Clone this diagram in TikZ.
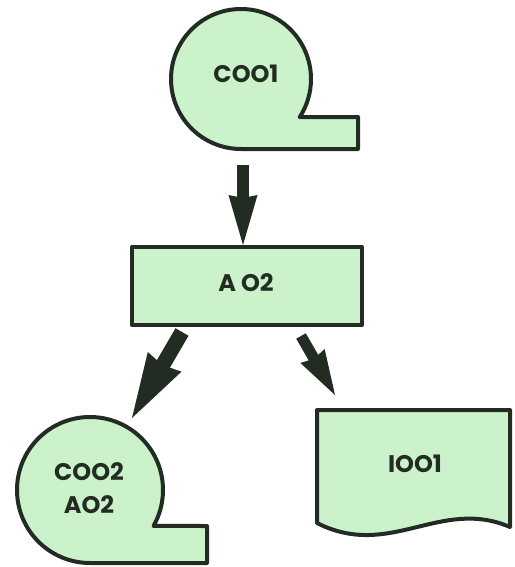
\documentclass[tikz,border=0pt]{standalone}
\usepackage{fontspec}
\setmainfont{Poppins}
\usetikzlibrary{arrows.meta}
\definecolor{tapegreen}{RGB}{204,242,204}
\definecolor{inkgreen}{RGB}{34,44,34}

\begin{document}
\begin{tikzpicture}[x=1pt, y=-1pt, line width=4pt, line join=round]
\useasboundingbox (0,0) rectangle (514,567);

%tapes
\filldraw[fill=tapegreen, draw=inkgreen] (241,149) arc[start angle=90, end angle=393, radius=70]
  -- (358,117) -- (358,149) -- cycle;
\filldraw[fill=tapegreen, draw=inkgreen] (90,563) arc[start angle=90, end angle=389.5, radius=73]
  -- (207,526) -- (207,563) -- cycle;

%process
\filldraw[fill=tapegreen, draw=inkgreen] (132,247) rectangle (362,325);

%document
\filldraw[fill=tapegreen, draw=inkgreen] (317,410) -- (510,410) -- (510,527)
  .. controls (440,497) and (390,560) .. (317,523) -- cycle;

%labels
\node[font=\bfseries\fontsize{24}{33}\selectfont, text=inkgreen] (c001) at (246,74) {COO1};
\node[font=\bfseries\fontsize{24}{33}\selectfont, text=inkgreen] (a02) at (246,283) {A O2};
\node[font=\bfseries\fontsize{24}{33}\selectfont, text=inkgreen, align=center] (c002) at (89,488) {COO2\\AO2};
\node[font=\bfseries\fontsize{24}{33}\selectfont, text=inkgreen] (i001) at (415,464) {IOO1};

%arrows
\coordinate (c001 out) at (243,165);
\coordinate (a02 in) at (243,245);
\coordinate (a02 left) at (182,332);
\coordinate (c002 in) at (132,418);
\coordinate (a02 right) at (301,336);
\coordinate (i001 in) at (335,395);
\draw[inkgreen, line width=12pt, -{Stealth[length=50pt, width=29pt, inset=3pt, line width=0pt]}] (c001 out) -- (a02 in);
\draw[inkgreen, line width=15pt, -{Stealth[length=65pt, width=39pt, inset=4pt, line width=0pt]}] (a02 left) -- (c002 in);
\draw[inkgreen, line width=11pt, -{Stealth[length=45pt, width=28pt, inset=3pt, line width=0pt]}] (a02 right) -- (i001 in);
\end{tikzpicture}
\end{document}
